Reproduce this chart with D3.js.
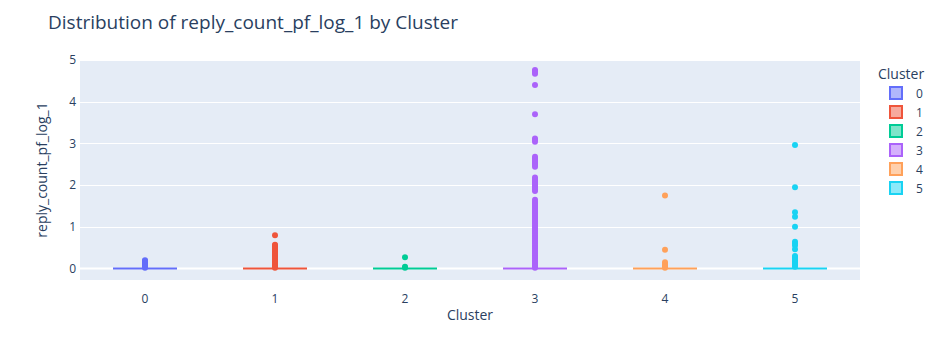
<!DOCTYPE html>
<html><head><meta charset="utf-8">
<script src="https://cdn.jsdelivr.net/npm/d3@7"></script>
<style>body{margin:0;background:#fff;} text{font-family:"Open Sans",verdana,arial,sans-serif;}</style>
</head><body><svg id="c" width="943" height="360"></svg>
<script>
const clusters = ["0","1","2","3","4","5"];
const colors = ["#636efa","#EF553B","#00cc96","#ab63fa","#FFA15A","#19d3f3"];
const yTicks = [0,1,2,3,4,5];
// box statistics (q1, median, q3) per cluster
const q1 = [0,0,0,0,0,0];
const medians = [0,0,0,0,0,0];
const q3 = [0,0,0,0,0,0];
// outlier values per cluster
const out0 = [0.2,0.18,0.16,0.14,0.12,0.1,0.08,0.06,0.04,0.02];
const out1 = [0.8,0.57,0.55,0.52,0.49,0.46,0.43,0.4,0.37,0.34,0.31,0.28,0.25,0.22,0.19,0.16,0.13,0.1,0.07,0.05,0.02];
const out2 = [0.27,0.04,0.02];
const out3 = [4.76,4.73,4.70,4.67,4.40,3.70,3.12,3.08,3.04,2.68,2.64,2.6,2.56,2.52,2.48,2.44,
  2.18,2.14,2.1,2.06,2.02,1.98,1.94,1.9,1.86,
  1.65,1.6,1.56,1.52,1.48,1.44,1.4,1.36,1.32,1.28,1.24,1.2,1.16,1.12,1.08,1.04,1.0,0.96,0.92,0.88,0.84,0.8,0.76,0.72,0.68,0.64,0.6,0.56,0.52,0.48,0.44,0.4,0.36,0.32,0.28,0.24,0.2,0.16,0.12,0.08,0.05,0.02];
const out4 = [1.75,0.45,0.15,0.11,0.07,0.04,0.02];
const out5 = [2.96,1.95,1.35,1.24,1.0,0.64,0.6,0.55,0.46,0.3,0.27,0.24,0.2,0.17,0.14,0.1,0.07,0.04];
const outliers = [out0,out1,out2,out3,out4,out5];

const svg = d3.select("#c");
const W = 943, H = 360;
const L = 80, R = 860, T = 60, B = 280;
svg.append("rect").attr("width",W).attr("height",H).attr("fill","#fff");
svg.append("rect").attr("x",L).attr("y",T).attr("width",R-L).attr("height",B-T).attr("fill","#E5ECF6");

const x = d3.scaleBand().domain(clusters).range([L,R]).padding(0);
const y = d3.scaleLinear().domain([-0.276,5.0]).range([B,T]);
const textColor = "#2a3f5f";

// grid
const g = svg.append("g");
g.selectAll("line.grid").data(yTicks).join("line")
  .attr("x1",L).attr("x2",R).attr("y1",d=>Math.round(y(d))+0.5).attr("y2",d=>Math.round(y(d))+0.5)
  .attr("stroke","#fff").attr("stroke-width",d=>d===0?2:1);

// y axis
const yAxis = d3.axisLeft(y).tickValues(yTicks).tickFormat(d3.format("d")).tickSize(0).tickPadding(4);
const ya = svg.append("g").attr("transform",`translate(${L},0)`).call(yAxis);
ya.select(".domain").remove();
ya.selectAll("text").attr("fill",textColor).style("font-size","12px");

// x axis
const xAxis = d3.axisBottom(x).tickSize(0).tickPadding(14);
const xa = svg.append("g").attr("transform",`translate(0,${B})`).call(xAxis);
xa.select(".domain").remove();
xa.selectAll("text").attr("fill",textColor).style("font-size","12px");

// boxes
const bw = 64;
clusters.forEach((c,i)=>{
  const cx = x(c) + x.bandwidth()/2;
  const gg = svg.append("g");
  gg.append("rect").attr("x",cx-bw/2).attr("y",y(q3[i])).attr("width",bw)
    .attr("height",Math.max(0,y(q1[i])-y(q3[i])))
    .attr("fill",colors[i]).attr("fill-opacity",0.5).attr("stroke",colors[i]).attr("stroke-width",2);
  gg.append("line").attr("x1",cx-bw/2).attr("x2",cx+bw/2).attr("y1",y(medians[i])).attr("y2",y(medians[i]))
    .attr("stroke",colors[i]).attr("stroke-width",2);
  gg.selectAll("circle").data(outliers[i]).join("circle")
    .attr("cx",cx).attr("cy",d=>y(d)).attr("r",3).attr("fill",colors[i]);
});

// title
svg.append("text").attr("x",48).attr("y",29).text("Distribution of reply_count_pf_log_1 by Cluster")
  .attr("fill",textColor).style("font-size","19px");
// axis titles
svg.append("text").attr("x",(L+R)/2).attr("y",320).attr("text-anchor","middle").text("Cluster")
  .attr("fill",textColor).style("font-size","14px");
svg.append("text").attr("transform",`translate(47,${(T+B)/2}) rotate(-90)`).attr("text-anchor","middle")
  .text("reply_count_pf_log_1").attr("fill",textColor).style("font-size","14px");

// legend
const lg = svg.append("g");
lg.append("text").attr("x",878).attr("y",79).text("Cluster").attr("fill",textColor).style("font-size","14px");
clusters.forEach((c,i)=>{
  const cy = 93 + i*19;
  lg.append("rect").attr("x",890).attr("y",cy-6).attr("width",12).attr("height",12)
    .attr("fill",colors[i]).attr("fill-opacity",0.5).attr("stroke",colors[i]).attr("stroke-width",2);
  lg.append("text").attr("x",916).attr("y",cy+4.5).text(c).attr("fill",textColor).style("font-size","12px");
});
</script></body></html>
